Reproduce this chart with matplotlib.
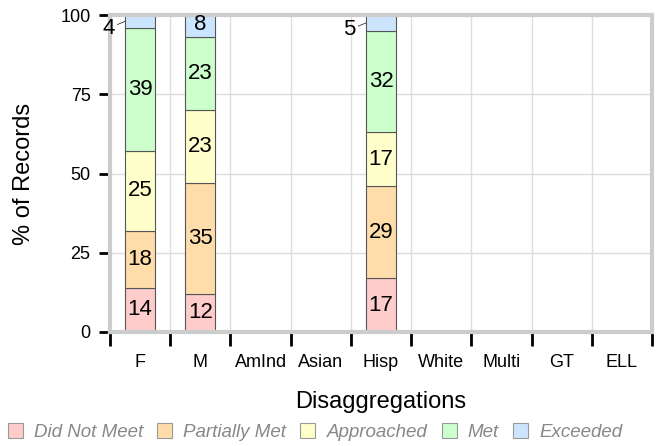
import numpy as np
import matplotlib
matplotlib.use("Agg")
import matplotlib.pyplot as plt
from matplotlib.patches import Patch

plt.rcParams['font.family'] = ['Liberation Sans', 'DejaVu Sans']

# data
groups = ["F", "M", "AmInd", "Asian", "Hisp", "White", "Multi", "GT", "ELL"]
levels = ["Did Not Meet", "Partially Met", "Approached", "Met", "Exceeded"]
did_not_meet = [14, 12, 0, 0, 17, 0, 0, 0, 0]
partially_met = [18, 35, 0, 0, 29, 0, 0, 0, 0]
approached = [25, 23, 0, 0, 17, 0, 0, 0, 0]
met = [39, 23, 0, 0, 32, 0, 0, 0, 0]
exceeded = [4, 8, 0, 0, 5, 0, 0, 0, 0]
series = [did_not_meet, partially_met, approached, met, exceeded]
colors = ["#FFCCCC", "#FFDDAA", "#FFFFCC", "#CCFFCC", "#CCE5FF"]

fig = plt.figure(figsize=(6.62, 4.46), dpi=100)
ax = fig.add_axes([110 / 662, (446 - 332) / 446, 542 / 662, (332 - 15) / 446])

x = np.arange(len(groups))
w = 0.5
bottom = np.zeros(len(groups))
for vals, col in zip(series, colors):
    vals = np.array(vals, dtype=float)
    ax.bar(x, vals, w, bottom=bottom, color=col, edgecolor="#555555",
           linewidth=0.8, zorder=3)
    for xi, v, b in zip(x, vals, bottom):
        if v <= 0:
            continue
        if v >= 6:
            ax.text(xi, b + v / 2, "%d" % v, ha="center", va="center",
                    fontsize=16, zorder=5)
        else:
            # small segment: label off to the left with a leader line
            ax.annotate("%d" % v, xy=(xi - w / 2, b + v / 2),
                        xytext=(-12, -5), textcoords="offset points",
                        ha="center", va="center", fontsize=16,
                        arrowprops=dict(arrowstyle="-", color="#333333",
                                        lw=0.6, shrinkA=0, shrinkB=0),
                        zorder=5, annotation_clip=False)
    bottom += vals

ax.set_xlim(-0.5, len(groups) - 0.5)
ax.set_ylim(0, 100)

ax.set_xticks(x)
ax.set_xticklabels(groups)
ax.set_xticks(np.arange(len(groups) + 1) - 0.5, minor=True)
ax.tick_params(axis="x", which="major", length=0, pad=16, labelsize=13)
ax.tick_params(axis="x", which="minor", length=10, width=2, color="black")
ax.set_yticks([0, 25, 50, 75, 100])
ax.tick_params(axis="y", length=8, width=2, color="black", pad=6, labelsize=13)

ax.grid(axis="x", which="minor", color="#DDDDDD", lw=1, zorder=0)
ax.grid(axis="y", which="major", color="#DDDDDD", lw=1, zorder=0)

for s in ax.spines.values():
    s.set_color("#CCCCCC")
    s.set_linewidth(3)
    s.set_zorder(4)

ax.set_xlabel("Disaggregations", fontsize=17, labelpad=14)
ax.set_ylabel("% of Records", fontsize=17, labelpad=18)

handles = [Patch(facecolor=c, edgecolor="#999999", lw=0.8) for c in colors]
leg = fig.legend(handles, levels, loc="center", bbox_to_anchor=(315 / 662, 14 / 446),
                 ncol=5, frameon=False, fontsize=13.5, handlelength=0.8,
                 handleheight=0.8, handletextpad=0.6, columnspacing=0.75,
                 borderpad=0)
for t in leg.get_texts():
    t.set_color("#888888")
    t.set_fontstyle("italic")

fig.savefig("out.png", dpi=100)
